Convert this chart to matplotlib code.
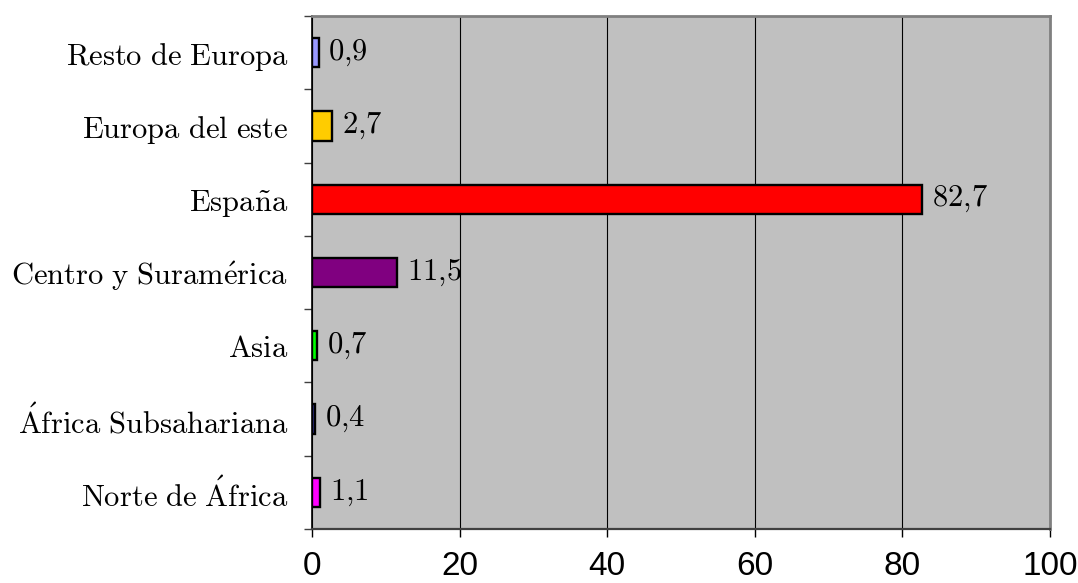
import matplotlib
matplotlib.use("Agg")
import matplotlib.pyplot as plt
from matplotlib.ticker import FixedLocator

# Origin groups, listed bottom to top
categories = ["Norte de África", "África Subsahariana", "Asia",
              "Centro y Suramérica", "España", "Europa del este",
              "Resto de Europa"]
values = [1.1, 0.4, 0.7, 11.5, 82.7, 2.7, 0.9]
colors = ["#FF00FF", "#333399", "#00FF00", "#800080", "#FF0000",
          "#FFCC00", "#9999FF"]
x_ticks = [0, 20, 40, 60, 80, 100]

plt.rcParams["mathtext.fontset"] = "cm"


def as_roman(s):
    """Render a label in Computer Modern roman via mathtext."""
    s = (s.replace(" ", r"\ ")
          .replace(",", "{,}")
          .replace("ñ", r"\tilde{n}")
          .replace("Á", r"\acute{A}")
          .replace("é", r"\acute{e}"))
    return r"$\mathrm{" + s + "}$"


fig = plt.figure(figsize=(10.78, 5.83), dpi=100)
ax = fig.add_axes([312 / 1078, 1 - 529 / 583, (1050 - 312) / 1078,
                   (529 - 16) / 583])
ax.set_facecolor("#C0C0C0")

pos = list(range(len(categories)))
ax.barh(pos, values, height=0.4, color=colors, edgecolor="black",
        linewidth=1.7, zorder=3)

for y, v in zip(pos, values):
    txt = f"{v:.1f}".replace(".", ",")
    ax.annotate(as_roman(txt), (v, y), xytext=(7, 0),
                textcoords="offset points", va="center", ha="left",
                fontsize=22, zorder=4)

ax.set_xlim(0, 100)
ax.set_ylim(-0.5, len(categories) - 0.5)

ax.set_xticks(x_ticks)
ax.set_xticklabels([str(t) for t in x_ticks], fontsize=24,
                   family="Liberation Sans")
ax.tick_params(axis="x", direction="out", length=6, width=1.0,
               color="black", pad=10)
ax.xaxis.grid(True, color="black", linewidth=0.8, zorder=1)

# category boundaries carry the tick marks, centres carry the labels
ax.yaxis.set_major_locator(FixedLocator([p - 0.5 for p in pos] +
                                        [len(pos) - 0.5]))
ax.set_yticklabels([])
ax.yaxis.set_minor_locator(FixedLocator(pos))
ax.set_yticklabels([as_roman(c) for c in categories], minor=True,
                   fontsize=22)
ax.tick_params(axis="y", which="major", direction="out", length=6,
               width=1.0, color="#404040")
ax.tick_params(axis="y", which="minor", length=0, pad=17)

ax.spines["left"].set_color("black")
ax.spines["left"].set_linewidth(1.2)
ax.spines["bottom"].set_color("#404040")
ax.spines["bottom"].set_linewidth(1.6)
for side in ("top", "right"):
    ax.spines[side].set_color("#808080")
    ax.spines[side].set_linewidth(2.0)

fig.savefig("out.png", dpi=100)
